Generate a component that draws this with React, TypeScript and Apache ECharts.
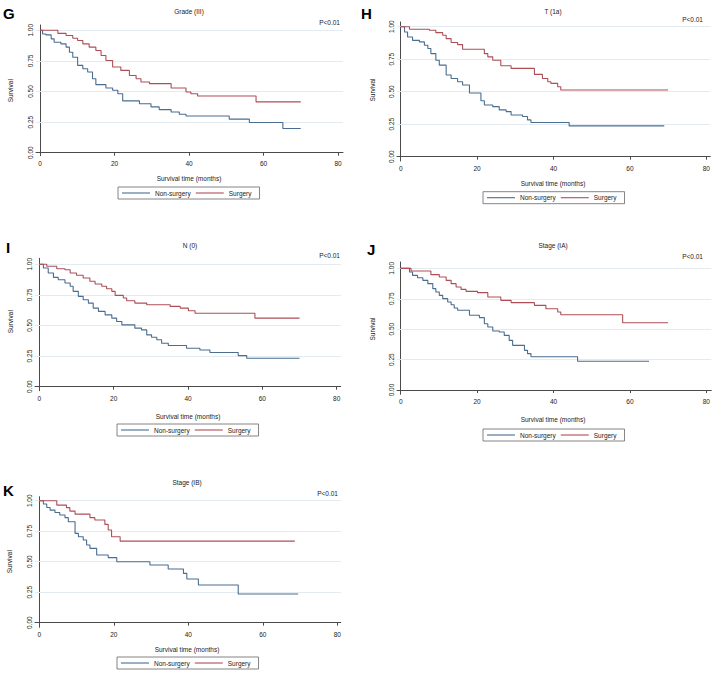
import React, { useEffect, useRef } from "react";
import * as echarts from "echarts";

// ---- data: [time in months, survival after that time] ----
const gradeNonSurgery = [[0,1],[0.7,0.97],[1.6,0.962],[3.0,0.93],[3.8,0.902],[5.6,0.889],[7.0,0.862],[7.9,0.821],[8.8,0.78],[10.1,0.713],[11.5,0.686],[12.8,0.659],[14.1,0.604],[15,0.556],[17.7,0.528],[19.5,0.51],[20.9,0.482],[22.2,0.423],[26.7,0.40],[29.8,0.374],[32,0.352],[35.2,0.333],[37.4,0.314],[39.2,0.30],[50.8,0.274],[56.2,0.247],[65.2,0.198],[70,0.198]];
const gradeSurgery = [[0,1],[4.8,0.975],[7.0,0.957],[8.8,0.935],[10.1,0.916],[11.5,0.889],[13.2,0.862],[15,0.835],[16.4,0.794],[17.7,0.753],[19.5,0.70],[21.7,0.672],[24,0.631],[25.8,0.604],[27.1,0.577],[29.4,0.564],[35.2,0.528],[39.2,0.496],[40.5,0.482],[42.3,0.463],[58,0.415],[70,0.415]];

const tNonSurgery = [[0,1],[1,0.959],[1.8,0.921],[3.1,0.895],[4.9,0.883],[6.2,0.857],[7.1,0.832],[7.9,0.793],[9.2,0.742],[10.1,0.704],[11.9,0.628],[13.2,0.602],[14.9,0.577],[16.2,0.551],[18,0.49],[21,0.43],[21.9,0.398],[24.1,0.385],[25.8,0.36],[27.6,0.347],[28.9,0.321],[31.9,0.309],[33.2,0.283],[34.1,0.263],[44.1,0.237],[69,0.237]];
const tSurgery = [[0,1],[2.3,0.98],[7.5,0.972],[9.2,0.954],[11,0.934],[11.9,0.908],[13.2,0.878],[14.9,0.862],[16.2,0.827],[21.9,0.793],[22.8,0.768],[24.1,0.742],[26.2,0.699],[28.9,0.679],[35,0.633],[37.1,0.602],[38.5,0.577],[39.3,0.564],[41.1,0.538],[41.9,0.513],[70,0.513]];

const nNonSurgery = [[0,1],[1.1,0.97],[2.4,0.929],[3.8,0.893],[5.1,0.874],[6.9,0.847],[8.3,0.82],[9.1,0.779],[10.5,0.738],[11.8,0.71],[13.2,0.683],[14.5,0.642],[15.9,0.615],[17.7,0.587],[19.5,0.56],[20.8,0.533],[22.2,0.505],[25.7,0.478],[27.5,0.464],[28.9,0.423],[30.2,0.404],[31.6,0.383],[32.9,0.355],[34.7,0.336],[39.6,0.314],[43.2,0.30],[45.9,0.279],[53.5,0.254],[55.8,0.232],[70,0.232]];
const nSurgery = [[0,1],[2,0.984],[4.7,0.964],[6.9,0.956],[8.3,0.929],[10,0.91],[11.8,0.888],[13.6,0.861],[15,0.839],[16.8,0.82],[18.1,0.80],[19.5,0.779],[20.4,0.746],[22.6,0.724],[23.5,0.702],[25.7,0.683],[28.9,0.669],[35.2,0.656],[37.9,0.642],[40.1,0.62],[41.9,0.60],[58,0.56],[70,0.56]];

const stageIANonSurgery = [[0,1],[2.3,0.97],[3.1,0.942],[4.4,0.923],[5.8,0.901],[7.1,0.874],[8.4,0.833],[9.2,0.805],[10.1,0.778],[11,0.751],[12.3,0.723],[13.2,0.701],[14,0.674],[14.9,0.655],[18,0.614],[20.6,0.595],[21.9,0.545],[22.8,0.518],[24.1,0.485],[25.8,0.477],[27.1,0.449],[28.4,0.408],[29.3,0.367],[32.4,0.326],[33.2,0.299],[34.1,0.274],[46.3,0.236],[65,0.236]];
const stageIASurgery = [[0,1],[2.7,0.978],[7.9,0.948],[10.1,0.929],[11.9,0.901],[13.2,0.874],[14.5,0.847],[15.8,0.827],[17.1,0.811],[20.1,0.80],[22.8,0.764],[26.2,0.737],[28.9,0.718],[35,0.696],[38,0.668],[41.1,0.641],[41.9,0.619],[58.1,0.553],[70,0.553]];

const stageIBNonSurgery = [[0,1],[1.1,0.973],[2,0.945],[2.9,0.923],[4.2,0.904],[5.5,0.883],[6.9,0.861],[7.8,0.828],[9.6,0.732],[10.5,0.705],[11.8,0.678],[12.7,0.637],[13.6,0.609],[15.4,0.555],[18.5,0.533],[20.8,0.50],[29.7,0.473],[34.6,0.44],[38.7,0.404],[39.6,0.358],[42.7,0.309],[53.4,0.235],[69.5,0.235]];
const stageIBSurgery = [[0,1],[4.7,0.964],[7.3,0.943],[8.2,0.915],[9.6,0.89],[13.6,0.861],[14.9,0.842],[17.6,0.806],[18.5,0.76],[19.4,0.705],[21.7,0.669],[68.6,0.669]];

const xTicks = [0, 20, 40, 60, 80];
const yTicks = [0, 0.25, 0.5, 0.75, 1];
const gridValues = [0.25, 0.5, 0.75, 1];
const seriesNames = ["Non-surgery", "Surgery"];
const pLabel = "P<0.01";

const FONT = '"Liberation Sans", Arial, Helvetica, sans-serif';
const BLUE = "#4a6d90";
const RED = "#ad4f57";
const AXIS = "#4a4a4a";
const TXT = "#222";
const FS = 6.5;

const panels = [
  { letter: "G", title: "Grade (III)", non: gradeNonSurgery, surg: gradeSurgery,
    grid: { left: 36, top: 25, width: 307, height: 130.7 }, x: [-1.07, 81.34], y: [-0.0245, 1.043],
    letterPos: [3, 13], titlePos: [189, 11], pPos: [340, 22], yTitlePos: [10.7, 90.7], xTitlePos: [189, 178.7], legendPos: [118, 187] },
  { letter: "H", title: "T (1a)", non: tNonSurgery, surg: tSurgery,
    grid: { left: 397, top: 22, width: 313.3, height: 139 }, x: [-0.97, 81.05], y: [-0.033, 1.036],
    letterPos: [361, 13], titlePos: [553, 11], pPos: [703, 19], yTitlePos: [372, 90], xTitlePos: [553, 183], legendPos: [483, 191.7] },
  { letter: "I", title: "N (0)", non: nNonSurgery, surg: nSurgery,
    grid: { left: 35, top: 258.3, width: 305.7, height: 132.4 }, x: [-1.16, 81.08], y: [-0.033, 1.049],
    letterPos: [6, 247], titlePos: [190, 245], pPos: [340, 255.7], yTitlePos: [10, 321.7], xTitlePos: [188, 416], legendPos: [117, 424] },
  { letter: "J", title: "Stage (IA)", non: stageIANonSurgery, surg: stageIASurgery,
    grid: { left: 397, top: 262, width: 314.3, height: 132.3 }, x: [-0.97, 81.3], y: [-0.035, 1.052],
    letterPos: [367, 249], titlePos: [553, 245.7], pPos: [703, 256.7], yTitlePos: [372, 329], xTitlePos: [553, 419], legendPos: [483, 429] },
  { letter: "K", title: "Stage (IB)", non: stageIBNonSurgery, surg: stageIBSurgery,
    grid: { left: 35, top: 496.7, width: 305.7, height: 130.6 }, x: [-1.15, 80.9], y: [-0.038, 1.033],
    letterPos: [3, 490], titlePos: [187, 482], pPos: [338, 493], yTitlePos: [9, 561.7], xTitlePos: [187, 649], legendPos: [117, 657] },
];

function buildOption() {
  const grid: any[] = [];
  const xAxis: any[] = [];
  const yAxis: any[] = [];
  const series: any[] = [];
  const legend: any[] = [];
  const graphic: any[] = [];

  panels.forEach((p, i) => {
    grid.push({ ...p.grid, containLabel: false });
    xAxis.push({
      gridIndex: i, type: "value", min: p.x[0], max: p.x[1],
      axisLine: { show: true, lineStyle: { color: AXIS, width: 1 } },
      axisTick: { show: true, length: 3, customValues: xTicks, lineStyle: { color: AXIS } },
      axisLabel: { customValues: xTicks, fontSize: FS, color: TXT, fontFamily: FONT, margin: 4 },
      splitLine: { show: false },
    });
    yAxis.push({
      gridIndex: i, type: "value", min: p.y[0], max: p.y[1],
      axisLine: { show: true, lineStyle: { color: AXIS, width: 1 } },
      axisTick: { show: true, length: 3, customValues: yTicks, lineStyle: { color: AXIS } },
      axisLabel: { customValues: yTicks, fontSize: FS, color: TXT, fontFamily: FONT, margin: 2, rotate: 90,
        formatter: (v: number) => v.toFixed(2) },
      splitLine: { show: false },
    });
    series.push({
      type: "line", xAxisIndex: i, yAxisIndex: i, data: [], silent: true, z: 1,
      markLine: {
        silent: true, z: 1, symbol: ["none", "none"], label: { show: false },
        lineStyle: { color: "#e3eaf0", width: 1, type: "solid" },
        data: gridValues.map((v) => ({ yAxis: v })),
      },
    });
    series.push({
      name: seriesNames[0], type: "line", step: "end", xAxisIndex: i, yAxisIndex: i,
      data: p.non, symbol: "none", z: 6, lineStyle: { color: BLUE, width: 1.1 }, itemStyle: { color: BLUE },
    });
    series.push({
      name: seriesNames[1], type: "line", step: "end", xAxisIndex: i, yAxisIndex: i,
      data: p.surg, symbol: "none", z: 6, lineStyle: { color: RED, width: 1.1 }, itemStyle: { color: RED },
    });
    legend.push({
      left: p.legendPos[0], top: p.legendPos[1], orient: "horizontal", data: seriesNames,
      icon: "rect", itemWidth: 28, itemHeight: 1.1, itemGap: 5, padding: [2, 8, 2, 4],
      borderColor: "#666", borderWidth: 0.8, selectedMode: false,
      textStyle: { fontSize: FS, color: TXT, fontFamily: FONT, lineHeight: 8 },
    });
    graphic.push({ type: "text", x: p.letterPos[0], y: p.letterPos[1], style: { text: p.letter, fontSize: 15, fontWeight: "bold", fontFamily: FONT, fill: "#000", align: "left", verticalAlign: "middle" } });
    graphic.push({ type: "text", x: p.titlePos[0], y: p.titlePos[1], style: { text: p.title, fontSize: FS, fontFamily: FONT, fill: TXT, align: "center", verticalAlign: "middle" } });
    graphic.push({ type: "text", x: p.pPos[0], y: p.pPos[1], style: { text: pLabel, fontSize: FS, fontFamily: FONT, fill: TXT, align: "right", verticalAlign: "middle" } });
    graphic.push({ type: "text", x: p.yTitlePos[0], y: p.yTitlePos[1], rotation: Math.PI / 2, style: { text: "Survival", fontSize: FS, fontFamily: FONT, fill: TXT, align: "center", verticalAlign: "middle" } });
    graphic.push({ type: "text", x: p.xTitlePos[0], y: p.xTitlePos[1], style: { text: "Survival time (months)", fontSize: FS, fontFamily: FONT, fill: TXT, align: "center", verticalAlign: "middle" } });
  });

  return { animation: false, backgroundColor: "#ffffff", grid, xAxis, yAxis, series, legend, graphic };
}

export default function App() {
  const ref = useRef<HTMLDivElement>(null);
  useEffect(() => {
    if (!ref.current) return;
    const chart = echarts.init(ref.current, undefined, { renderer: "svg" });
    chart.setOption(buildOption() as any);
    return () => chart.dispose();
  }, []);
  return <div ref={ref} style={{ position: "fixed", left: 0, top: 0, width: 716, height: 676 }} />;
}
